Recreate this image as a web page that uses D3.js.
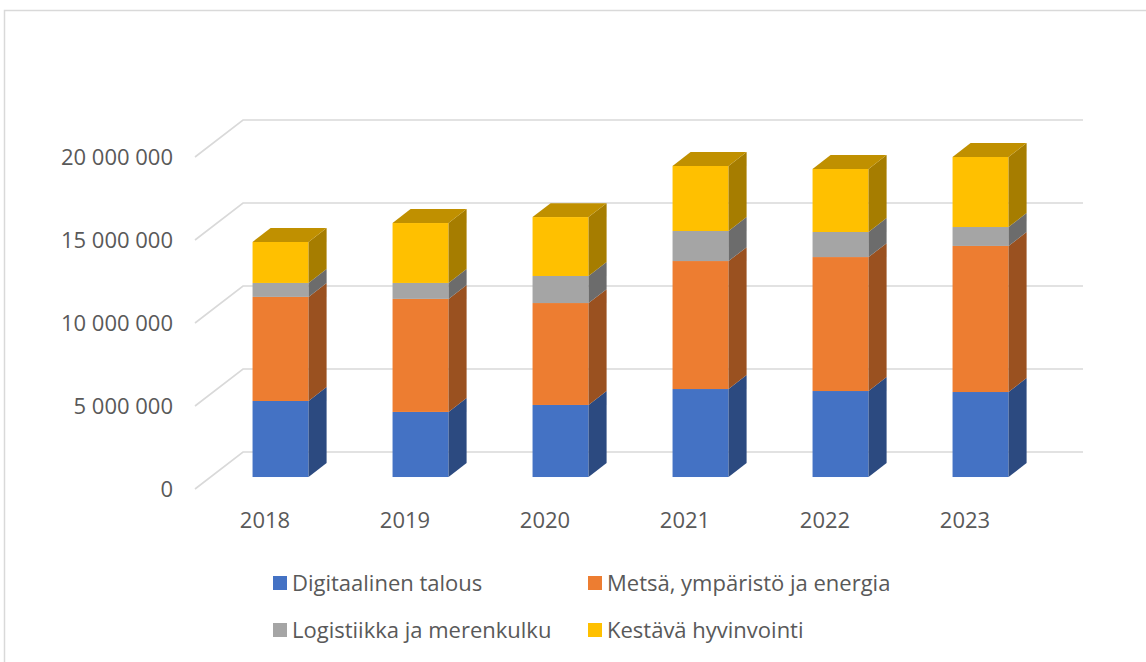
<!DOCTYPE html>
<html>
<head>
<meta charset="utf-8">
<script src="https://cdn.jsdelivr.net/npm/d3@7"></script>
<style>
  body { margin: 0; background: #fff; }
  svg { display: block; font-family: "Open Sans", sans-serif; }
</style>
</head>
<body>
<div id="chart"></div>
<script>
// data
var years = ["2018", "2019", "2020", "2021", "2022", "2023"];
var seriesNames = ["Digitaalinen talous", "Metsä, ympäristö ja energia", "Logistiikka ja merenkulku", "Kestävä hyvinvointi"];
var digitaalinen = [4580000, 3920000, 4340000, 5300000, 5180000, 5120000];
var metsa = [6270000, 6810000, 6140000, 7710000, 8070000, 8800000];
var logistiikka = [840000, 960000, 1630000, 1810000, 1510000, 1140000];
var kestava = [2470000, 3610000, 3550000, 3920000, 3800000, 4220000];
var yTicks = [0, 5000000, 10000000, 15000000, 20000000];
var colors = ["#4472C4", "#ED7D31", "#A5A5A5", "#FFC000"];

function init() {
    var w = 1146, h = 662;

    var y0 = 489;          // front plane zero line
    var depthX = 48, depthY = 37;   // full depth of the floor
    var zFront = 0.324, zBack = 0.70;  // bar depth inside the floor

    var xScale = d3.scaleBand()
        .domain(years)
        .range([195, 1035])
        .paddingInner(0.6)
        .paddingOuter(0.3);

    var yScale = d3.scaleLinear()
        .domain([0, 20000000])
        .range([0, 332]);

    var fi = d3.formatLocale({ decimal: ",", thousands: " ", grouping: [3], currency: ["", "€"] });
    var fmt = fi.format(",");

    // oblique projection
    function px(x, z) { return x + z * depthX; }
    function py(v, z) { return y0 - yScale(v) - z * depthY; }

    var rows = years.map(function(d, i) {
        return { year: d, s0: digitaalinen[i], s1: metsa[i], s2: logistiikka[i], s3: kestava[i] };
    });
    var stack = d3.stack().keys(["s0", "s1", "s2", "s3"]);
    var stacked = stack(rows);

    var svg = d3.select("#chart").append("svg")
        .attr("width", w)
        .attr("height", h);

    // outer frame
    svg.append("rect")
        .attr("x", 4.5).attr("y", 10.5)
        .attr("width", 1300).attr("height", 800)
        .attr("fill", "none")
        .attr("stroke", "#d9d9d9")
        .attr("stroke-width", 1.5);

    var x0 = xScale.range()[0], x1 = xScale.range()[1];

    // gridlines: floor side + back wall
    svg.selectAll("path.grid")
        .data(yTicks)
        .enter()
        .append("path")
        .attr("class", "grid")
        .attr("d", function(d) {
            return "M" + px(x0, 0) + "," + py(d, 0) +
                   "L" + px(x0, 1) + "," + py(d, 1) +
                   "L" + px(x1, 1) + "," + py(d, 1);
        })
        .attr("fill", "none")
        .attr("stroke", "#d9d9d9")
        .attr("stroke-width", 1.6);

    // y labels
    svg.selectAll("text.ylab")
        .data(yTicks)
        .enter()
        .append("text")
        .attr("class", "ylab")
        .attr("x", 173)
        .attr("y", function(d) { return py(d, 0); })
        .attr("dy", "0.35em")
        .attr("text-anchor", "end")
        .attr("fill", "#595959")
        .style("font-size", "22px")
        .text(function(d) { return fmt(d); });

    // x labels
    svg.selectAll("text.xlab")
        .data(years)
        .enter()
        .append("text")
        .attr("class", "xlab")
        .attr("x", function(d) { return xScale(d) + xScale.bandwidth() / 2; })
        .attr("y", 520)
        .attr("dy", "0.35em")
        .attr("text-anchor", "middle")
        .attr("fill", "#595959")
        .style("font-size", "22px")
        .text(function(d) { return d; });

    // bars
    var bw = xScale.bandwidth();
    years.forEach(function(year, i) {
        var g = svg.append("g");
        stacked.forEach(function(layer, k) {
            var seg = layer[i];
            var xl = px(xScale(year), zFront), xr = xl + bw;
            var yb = py(seg[0], zFront), yt = py(seg[1], zFront);
            var dx = (zBack - zFront) * depthX, dy = (zBack - zFront) * depthY;
            var c = d3.color(colors[k]);
            // front face
            g.append("rect")
                .attr("x", xl).attr("y", yt)
                .attr("width", bw).attr("height", yb - yt)
                .attr("fill", colors[k]);
            // side face
            g.append("path")
                .attr("d", "M" + xr + "," + yb + "L" + (xr + dx) + "," + (yb - dy) +
                           "L" + (xr + dx) + "," + (yt - dy) + "L" + xr + "," + yt + "Z")
                .attr("fill", c.darker(1.2));
            // top face on the last segment
            if (k === stacked.length - 1) {
                g.append("path")
                    .attr("d", "M" + xl + "," + yt + "L" + (xl + dx) + "," + (yt - dy) +
                               "L" + (xr + dx) + "," + (yt - dy) + "L" + xr + "," + yt + "Z")
                    .attr("fill", c.darker(0.8));
            }
        });
    });

    // legend
    var legPos = [[273, 583], [588, 583], [273, 630], [588, 630]];
    var leg = svg.selectAll("g.leg")
        .data(seriesNames)
        .enter()
        .append("g")
        .attr("class", "leg")
        .attr("transform", function(d, i) { return "translate(" + legPos[i][0] + "," + legPos[i][1] + ")"; });
    leg.append("rect")
        .attr("x", 0).attr("y", -7)
        .attr("width", 14).attr("height", 14)
        .attr("fill", function(d, i) { return colors[i]; });
    leg.append("text")
        .attr("x", 19)
        .attr("dy", "0.35em")
        .attr("fill", "#595959")
        .style("font-size", "22px")
        .text(function(d) { return d; });
}
window.onload = init;
</script>
</body>
</html>
